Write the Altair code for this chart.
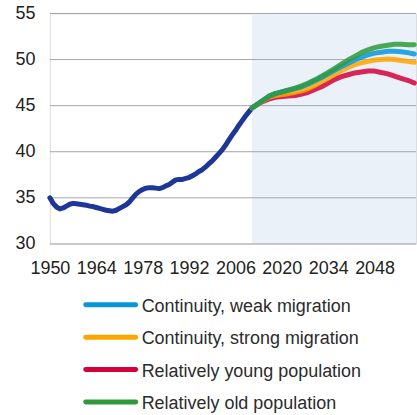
import altair as alt
import pandas as pd

# Median age, observed 1950-2011
hist_years = list(range(1950, 2012))
hist_age = [
    35.0, 34.4, 34.0, 33.8, 33.9, 34.1, 34.3, 34.4, 34.35, 34.3,
    34.25, 34.2, 34.1, 34.05, 33.95, 33.85, 33.75, 33.65, 33.6, 33.55,
    33.65, 33.85, 34.05, 34.25, 34.55, 35.0, 35.4, 35.7, 35.9, 36.05,
    36.1, 36.1, 36.05, 36.0, 36.1, 36.3, 36.45, 36.7, 36.95, 37.0,
    37.0, 37.1, 37.2, 37.4, 37.6, 37.85, 38.05, 38.35, 38.7, 39.0,
    39.4, 39.8, 40.2, 40.7, 41.25, 41.8, 42.3, 42.85, 43.35, 43.85,
    44.3, 44.75,
]

# Projection scenarios, 2011-2060
proj_years = [2011] + list(range(2014, 2061, 2))
weak_migration = [
    44.75, 45.5, 46.0, 46.3, 46.5, 46.65, 46.85, 47.05, 47.35, 47.7,
    48.05, 48.45, 48.85, 49.25, 49.6, 49.95, 50.25, 50.5, 50.7, 50.8,
    50.9, 50.9, 50.85, 50.75, 50.6,
]
strong_migration = [
    44.75, 45.45, 45.9, 46.1, 46.2, 46.3, 46.45, 46.6, 46.85, 47.2,
    47.6, 48.0, 48.4, 48.8, 49.15, 49.45, 49.65, 49.8, 49.95, 50.0,
    50.05, 50.0, 49.9, 49.8, 49.7,
]
young_population = [
    44.75, 45.4, 45.7, 45.9, 46.0, 46.05, 46.1, 46.25, 46.45, 46.75,
    47.05, 47.45, 47.85, 48.15, 48.35, 48.55, 48.65, 48.75, 48.75, 48.6,
    48.45, 48.2, 47.95, 47.75, 47.45,
]
old_population = [
    44.75, 45.5, 46.0, 46.3, 46.5, 46.7, 46.9, 47.15, 47.45, 47.8,
    48.2, 48.6, 49.05, 49.5, 49.95, 50.35, 50.75, 51.05, 51.3, 51.45,
    51.55, 51.65, 51.65, 51.6, 51.6,
]

scenario_names = [
    "Continuity, weak migration",
    "Continuity, strong migration",
    "Relatively young population",
    "Relatively old population",
]
scenario_colors = ["#0896d7", "#ffa400", "#d5003a", "#2e9a3a"]
history_color = "#1e3797"

x_ticks = [1950, 1964, 1978, 1992, 2006, 2020, 2034, 2048]
y_ticks = [30, 35, 40, 45, 50, 55]
x_domain = [1950, 2060.5]
y_domain = [30, 55]
projection_span = {"start": [2011], "end": [2060.5]}

hist_df = pd.DataFrame({"year": hist_years, "age": hist_age})

# drawn bottom-to-top: young, strong, weak, old
series_values = {
    scenario_names[2]: young_population,
    scenario_names[1]: strong_migration,
    scenario_names[0]: weak_migration,
    scenario_names[3]: old_population,
}
proj_rows = []
for name, vals in series_values.items():
    for yr, v in zip(proj_years, vals):
        proj_rows.append({"year": yr, "age": v, "scenario": name})
proj_df = pd.DataFrame(proj_rows)

grid_df = pd.DataFrame({"tick": y_ticks})
span_df = pd.DataFrame(projection_span)
legend_df = pd.DataFrame({"scenario": scenario_names})

x_scale = alt.Scale(domain=x_domain, nice=False, zero=False)
y_scale = alt.Scale(domain=y_domain, nice=False, zero=False)
color_scale = alt.Scale(domain=scenario_names, range=scenario_colors)
# legend rows sit below the x-axis labels
legend_rows = alt.Scale(
    type="point", domain=scenario_names, range=[292, 389.5], padding=0
)

x_axis = alt.Axis(
    values=x_ticks, format="d", grid=False, domain=False, ticks=False,
    tickSize=0, labelFontSize=18, labelColor="#222222", labelPadding=16,
    labelFont="Liberation Sans", title=None, labelFlush=False,
)
y_axis = alt.Axis(
    values=y_ticks, grid=False, domain=False, ticks=False, tickSize=0,
    labelFontSize=18, labelColor="#222222", labelPadding=15,
    labelFont="Liberation Sans", title=None, minExtent=50, maxExtent=50,
)

shade = alt.Chart(span_df).mark_rect(color="#eaf1f9").encode(
    x=alt.X("start:Q", scale=x_scale, axis=x_axis),
    x2="end:Q",
    y=alt.Y(datum=y_domain[0], scale=y_scale, axis=y_axis),
    y2=alt.datum(y_domain[1]),
)

grid = alt.Chart(grid_df).mark_rule(color="#a6a6a6", strokeWidth=1).encode(
    y=alt.Y("tick:Q", scale=y_scale, axis=None),
)

history = alt.Chart(hist_df).mark_line(
    color=history_color, strokeWidth=5, strokeCap="round", strokeJoin="round"
).encode(
    x=alt.X("year:Q", scale=x_scale, axis=x_axis),
    y=alt.Y("age:Q", scale=y_scale, axis=None),
)

projections = alt.Chart(proj_df).mark_line(
    strokeWidth=5, strokeCap="round", strokeJoin="round", opacity=0.85
).encode(
    x=alt.X("year:Q", scale=x_scale, axis=x_axis),
    y=alt.Y("age:Q", scale=y_scale, axis=None),
    color=alt.Color("scenario:N", scale=color_scale, legend=None),
    detail="scenario:N",
)

# legend: a short coloured stroke and a label per scenario
legend_keys = alt.Chart(legend_df).mark_rule(
    strokeWidth=5, strokeCap="round"
).encode(
    x=alt.value(36), x2=alt.value(86),
    y=alt.Y("scenario:N", scale=legend_rows, axis=None),
    color=alt.Color("scenario:N", scale=color_scale, legend=None),
)
legend_labels = alt.Chart(legend_df).mark_text(
    align="left", baseline="middle", fontSize=18, font="Liberation Sans",
    color="#2b2b2b", dy=2,
).encode(
    x=alt.value(92),
    y=alt.Y("scenario:N", scale=legend_rows, axis=None),
    text="scenario:N",
)

chart = alt.layer(
    shade, grid, history, projections, legend_keys, legend_labels
).resolve_scale(y="independent").properties(
    width=367, height=231,
    padding={"left": 0, "top": 4, "right": 0, "bottom": 0},
).configure_view(stroke=None).configure(background="white")

chart.save("out.html", embed_options={"renderer": "svg", "actions": False})
